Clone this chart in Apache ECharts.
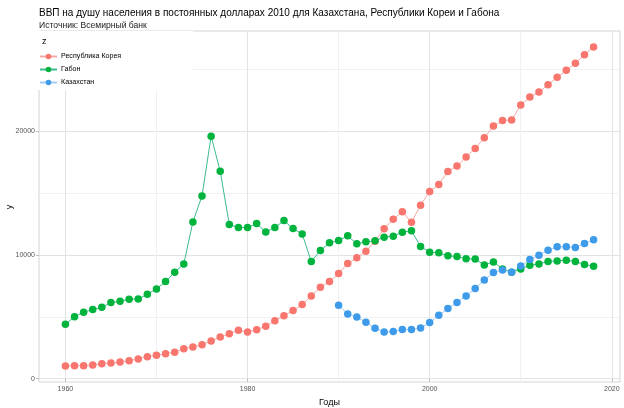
<!DOCTYPE html>
<html>
<head>
<meta charset="utf-8">
<script src="https://cdn.jsdelivr.net/npm/echarts@6/dist/echarts.min.js"></script>
<style>
  html, body { margin: 0; padding: 0; background: #fff; }
  #chart { width: 624px; height: 408px; }
</style>
</head>
<body>
<div id="chart"></div>
<script>
// years 1960..2018
const years = []
for (let y = 1960; y <= 2018; y++) years.push(y)

const korea = [
  1024, 1051, 1051, 1105, 1213, 1267, 1348, 1456, 1590, 1779,
  1887, 2022, 2129, 2426, 2561, 2749, 3046, 3369, 3639, 3908,
  3774, 3962, 4232, 4690, 5094, 5499, 5990, 6688, 7389, 7848,
  8495, 9304, 9763, 10302, 11111, 12109, 12891, 13484, 12648, 14024,
  15130, 15696, 16748, 17179, 17907, 18608, 19471, 20415, 20874, 20901,
  22114, 22762, 23166, 23759, 24353, 24919, 25485, 26186, 26807
]

const gabon = [
  4394, 5013, 5364, 5580, 5768, 6146, 6253, 6415, 6442, 6819,
  7251, 7844, 8598, 9272, 12668, 14771, 19596, 16765, 12453, 12210,
  12210, 12534, 11860, 12210, 12776, 12129, 11700, 9466, 10356, 10976,
  11165, 11543, 10895, 11057, 11138, 11435, 11516, 11839, 11947, 10680,
  10221, 10167, 9925, 9871, 9682, 9680, 9192, 9434, 8873, 8603,
  8868, 9169, 9277, 9466, 9520, 9574, 9466, 9223, 9088
]

// Kazakhstan: 1990..2018
const kazYears = years.slice(30)
const kazakhstan = [
  5933, 5232, 4989, 4558, 4072, 3776, 3803, 3964, 3964, 4099,
  4531, 5124, 5663, 6149, 6688, 7282, 7983, 8576, 8787, 8601,
  9110, 9628, 9978, 10383, 10653, 10653, 10599, 10922, 11219
]

const xGrid = [1960, 1970, 1980, 1990, 2000, 2010, 2020]
const xLabels = [1960, 1980, 2000, 2020]
const yGrid = [0, 5000, 10000, 15000, 20000, 25000]
const yLabels = [0, 10000, 20000]

const pairs = (xs, vs) => vs.map((v, i) => [xs[i], v])

const chart = echarts.init(document.getElementById('chart'), null, { renderer: 'canvas' })

const font = '"Liberation Sans", Arial, sans-serif'
const xMin = 1957.1, xMax = 2020.9, yMin = -270, yMax = 28100
const plain = (v) => String(Math.round(v))

const mkSeries = (name, data, pointColor, lineColor) => ({
  name: name,
  type: 'line',
  xAxisIndex: 0,
  yAxisIndex: 0,
  data: data,
  symbol: 'circle',
  symbolSize: 7.5,
  showSymbol: true,
  animation: false,
  itemStyle: { color: pointColor },
  lineStyle: { color: lineColor, width: 1 },
  emphasis: { disabled: true }
})

chart.setOption({
  backgroundColor: '#fff',
  animation: false,
  textStyle: { fontFamily: font },
  title: {
    text: 'ВВП на душу населения в постоянных долларах 2010 для Казахстана, Республики Кореи и Габона',
    subtext: 'Источник: Всемирный банк',
    left: 34,
    top: 3,
    itemGap: 3,
    textStyle: { fontSize: 10, fontWeight: 'normal', color: '#000', fontFamily: font },
    subtextStyle: { fontSize: 8.6, color: '#222', fontFamily: font }
  },
  grid: {
    left: 39, right: 4, top: 31, bottom: 26,
    outerBoundsMode: 'none',
    containLabel: false,
    show: true, borderColor: '#d4d4d4', borderWidth: 1,
    backgroundColor: 'transparent'
  },
  legend: {
    orient: 'vertical',
    left: 39,
    top: 53,
    z: 20,
    itemWidth: 17,
    itemHeight: 7,
    itemGap: 6,
    padding: 0,
    selectedMode: false,
    textStyle: { fontSize: 7.1, color: '#000', fontFamily: font, padding: [0, 0, 0, -1] },
    data: ['Республика Корея', 'Габон', 'Казахстан']
  },
  graphic: [
    { type: 'rect', z: 10, shape: { x: 0, y: 31, width: 193, height: 59 }, style: { fill: '#fff' } },
    { type: 'text', z: 20, x: 42, y: 37, style: { text: 'z', fontSize: 9, fill: '#000', font: '9px ' + font } },
    // y axis title
    {
      type: 'text', z: 20, x: 10, y: 207, rotation: Math.PI / 2,
      style: { text: 'y', font: '9px ' + font, fill: '#000', align: 'center', verticalAlign: 'middle' }
    }
  ],
  xAxis: [
    {
      type: 'value', min: xMin, max: xMax,
      axisLine: { show: false },
      axisTick: { show: false, customValues: xGrid },
      axisLabel: { show: false },
      splitLine: { show: true, lineStyle: { color: ['#e3e3e3', '#f1f1f1'], width: 1 } }
    },
    {
      type: 'value', min: xMin, max: xMax, position: 'bottom',
      name: 'Годы', nameLocation: 'middle', nameGap: 10,
      nameTextStyle: { fontSize: 9, color: '#000', fontFamily: font },
      axisLine: { show: false },
      axisTick: { show: true, customValues: xLabels, length: 3, lineStyle: { color: '#bbb' } },
      axisLabel: { customValues: xLabels, formatter: plain, fontSize: 7, color: '#555', margin: 4, fontFamily: font },
      splitLine: { show: false }
    }
  ],
  yAxis: [
    {
      type: 'value', min: yMin, max: yMax,
      axisLine: { show: false },
      axisTick: { show: false, customValues: yGrid },
      axisLabel: { show: false },
      splitLine: { show: true, lineStyle: { color: ['#e3e3e3', '#f1f1f1'], width: 1 } }
    },
    {
      type: 'value', min: yMin, max: yMax, position: 'left',
      axisLine: { show: false },
      axisTick: { show: true, customValues: yLabels, length: 3, lineStyle: { color: '#bbb' } },
      axisLabel: { customValues: yLabels, formatter: plain, fontSize: 7, color: '#555', margin: 4, fontFamily: font },
      splitLine: { show: false }
    }
  ],
  series: [
    mkSeries('Республика Корея', pairs(years, korea), '#F8766D', '#f4aaa5'),
    mkSeries('Габон', pairs(years, gabon), '#00B33C', '#3dba8f'),
    mkSeries('Казахстан', pairs(kazYears, kazakhstan), '#3d9be9', '#a7cbf1')
  ]
})
</script>
</body>
</html>
